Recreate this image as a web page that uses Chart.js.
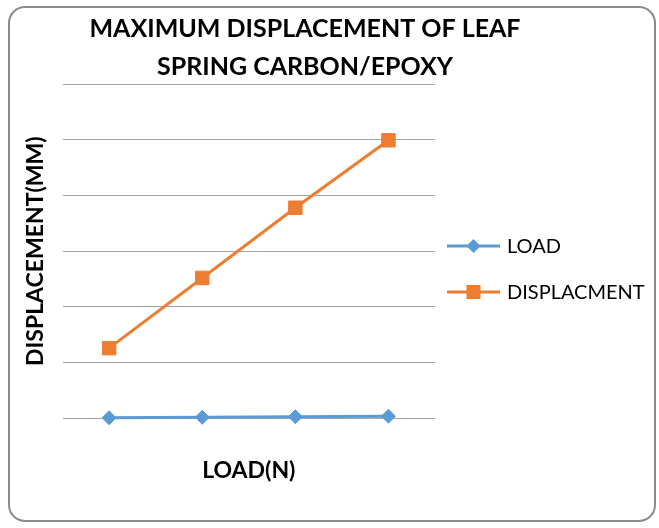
<!DOCTYPE html>
<html>
<head>
<meta charset="utf-8">
<script src="https://cdn.jsdelivr.net/npm/chart.js@4"></script>
<style>
  html, body { margin: 0; padding: 0; background: #ffffff; }
  #wrap { position: relative; width: 659px; height: 528px; }
</style>
</head>
<body>
<div id="wrap"><canvas id="c" width="659" height="528"></canvas></div>
<script>
// ---- data ----
const categories = ["1", "2", "3", "4"];
const loadValues = [0.1, 0.2, 0.3, 0.4];
const displacementValues = [12.6, 25.2, 37.8, 49.9];
const seriesNames = ["LOAD", "DISPLACMENT"];
const chartTitleLines = ["MAXIMUM DISPLACEMENT OF LEAF", "SPRING CARBON/EPOXY"];
const xAxisTitle = "LOAD(N)";
const yAxisTitle = "DISPLACEMENT(MM)";
const yMin = 0, yMax = 60, yStep = 10;

const BLUE = "#5b9bd5";
const ORANGE = "#ed7d31";
const FONT = "Lato, 'Open Sans', sans-serif";

const framePlugin = {
  id: "frame",
  beforeDraw(chart) {
    const ctx = chart.ctx;
    ctx.save();
    ctx.fillStyle = "#ffffff";
    ctx.fillRect(0, 0, chart.width, chart.height);
    ctx.strokeStyle = "#8c8c8c";
    ctx.lineWidth = 2;
    const x = 9, y = 7, w = 646, h = 514, r = 16;
    ctx.beginPath();
    ctx.moveTo(x + r, y);
    ctx.arcTo(x + w, y, x + w, y + h, r);
    ctx.arcTo(x + w, y + h, x, y + h, r);
    ctx.arcTo(x, y + h, x, y, r);
    ctx.arcTo(x, y, x + w, y, r);
    ctx.closePath();
    ctx.stroke();
    ctx.restore();
  },
  afterDraw(chart) {
    const ctx = chart.ctx;
    ctx.save();
    // title
    ctx.fillStyle = "#000000";
    ctx.font = "bold 25px " + FONT;
    ctx.textAlign = "center";
    ctx.textBaseline = "middle";
    chartTitleLines.forEach((t, i) => ctx.fillText(t, 305, 29 + i * 38));
    // legend
    const items = chart.data.datasets;
    items.forEach((ds, i) => {
      const y = 246 + i * 46;
      ctx.strokeStyle = ds.borderColor;
      ctx.lineWidth = 3;
      ctx.beginPath();
      ctx.moveTo(447, y);
      ctx.lineTo(500, y);
      ctx.stroke();
      ctx.fillStyle = ds.pointBackgroundColor;
      if (ds.pointStyle === "rect") {
        ctx.fillRect(466.5, y - 7, 14, 14);
      } else {
        ctx.beginPath();
        ctx.moveTo(473.5, y - 7);
        ctx.lineTo(480.5, y);
        ctx.lineTo(473.5, y + 7);
        ctx.lineTo(466.5, y);
        ctx.closePath();
        ctx.fill();
      }
      ctx.fillStyle = "#000000";
      ctx.font = "20px " + FONT;
      ctx.textAlign = "left";
      ctx.fillText(ds.label, 507, y + 1);
    });
    ctx.restore();
  }
};

new Chart(document.getElementById("c"), {
  type: "line",
  data: {
    labels: categories,
    datasets: [
      {
        label: seriesNames[0],
        data: loadValues,
        borderColor: BLUE,
        backgroundColor: BLUE,
        pointBackgroundColor: BLUE,
        pointBorderColor: BLUE,
        pointStyle: "rectRot",
        pointRadius: 7,
        pointBorderWidth: 1,
        borderWidth: 3,
        tension: 0,
        clip: false
      },
      {
        label: seriesNames[1],
        data: displacementValues,
        borderColor: ORANGE,
        backgroundColor: ORANGE,
        pointBackgroundColor: ORANGE,
        pointBorderColor: ORANGE,
        pointStyle: "rect",
        pointRadius: 9.5,
        pointBorderWidth: 1,
        borderWidth: 3,
        tension: 0,
        clip: false
      }
    ]
  },
  options: {
    responsive: false,
    animation: false,
    devicePixelRatio: 1,
    layout: { padding: { left: 22, right: 224, top: 84, bottom: 44 } },
    plugins: {
      legend: { display: false },
      title: { display: false },
      tooltip: { enabled: false }
    },
    scales: {
      x: {
        type: "category",
        offset: true,
        grid: { display: false, drawTicks: false },
        border: { display: false },
        ticks: { display: false },
        title: {
          display: true,
          text: xAxisTitle,
          color: "#000000",
          font: { family: FONT, size: 23, weight: "bold" },
          padding: { top: 38, bottom: 0 }
        }
      },
      y: {
        min: yMin,
        max: yMax,
        grid: { color: "#a6a6a6", lineWidth: 1, drawTicks: false },
        border: { display: false },
        ticks: { display: false, stepSize: yStep },
        title: {
          display: true,
          text: yAxisTitle,
          color: "#000000",
          font: { family: FONT, size: 23, weight: "bold" },
          padding: { top: 0, bottom: 13 }
        }
      }
    }
  },
  plugins: [framePlugin]
});
</script>
</body>
</html>
